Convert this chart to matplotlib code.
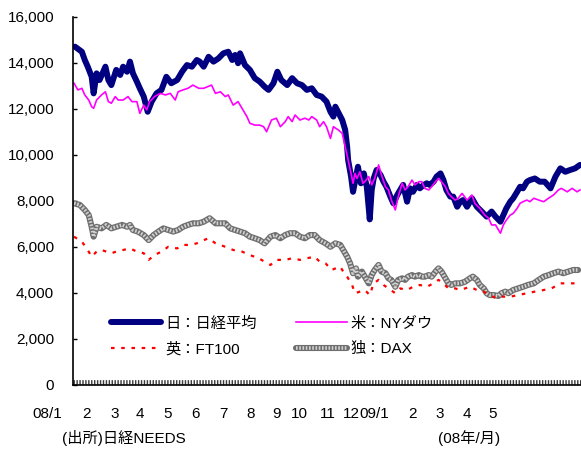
import numpy as np
import matplotlib
matplotlib.use("Agg")
import matplotlib.pyplot as plt
from matplotlib.lines import Line2D

plt.rcParams['font.family'] = ['Liberation Sans', 'Noto Sans CJK JP']

# ---- data: x = days since 2008-01-01, y = index level ----
nikkei_day = [2, 9, 12, 15, 19, 21, 24, 27, 33, 36, 39, 44, 48, 51, 55, 58, 61, 65, 68, 72,
              76, 80, 85, 90, 95, 100, 106, 111, 116, 121, 126, 129, 133, 138, 143, 148, 153, 158, 162, 165,
              168, 170, 175, 180, 185, 190, 195, 199, 204, 208, 212, 218, 223, 228, 233, 238, 243, 248, 253, 258,
              262, 265, 267, 274, 277, 279, 280, 283, 285, 288, 290, 293, 296, 299, 302, 304, 306, 309, 313, 316,
              319, 323, 326, 330, 333, 336, 340, 343, 346, 350, 353, 357, 360, 363, 367, 370, 374, 377, 380, 384,
              387, 391, 394, 397, 401, 406, 411, 416, 421, 426, 430, 435, 438, 441, 445, 448, 452, 455, 458, 462,
              465, 470, 475, 480, 486, 491, 496, 501, 506, 511, 516]
nikkei = [14710, 14490, 14130, 13840, 13400, 12680, 13550, 13260, 13840, 13260, 13040, 13700, 13480, 13840, 13620, 14060, 13550, 13190, 12900, 12540,
          11880, 12320, 12680, 12830, 13400, 13120, 13260, 13620, 13910, 13840, 14130, 14060, 13840, 14270, 14060, 14200, 14420, 14490, 14130, 14350,
          13990, 14420, 13910, 13700, 13340, 13190, 12970, 12830, 13120, 13620, 13260, 13040, 13340, 13120, 13040, 12830, 12900, 12610, 12540, 12320,
          11880, 11670, 12100, 11520, 11090, 10360, 9780, 9060, 8400, 9060, 9490, 8770, 9200, 8620, 7200, 8480, 8980, 9350, 9130, 8840,
          8620, 8190, 7900, 8260, 8480, 8700, 7970, 8550, 8400, 8700, 8550, 8700, 8770, 8700, 8840, 9060, 9200, 8910, 8480, 8190,
          8190, 7750, 7970, 8040, 7750, 8120, 7750, 7540, 7320, 7540, 7320, 7100, 7390, 7680, 7970, 8120, 8400, 8620, 8550, 8840,
          8910, 8980, 8840, 8840, 8550, 9060, 9420, 9270, 9350, 9420, 9570]

dow_day = [1, 5, 9, 12, 16, 19, 21, 24, 29, 33, 36, 39, 43, 46, 51, 56, 60, 65, 68, 72,
           75, 78, 83, 89, 94, 99, 104, 107, 112, 117, 122, 128, 133, 141, 145, 150, 155, 158, 163, 168,
           173, 177, 180, 185, 190, 194, 197, 202, 207, 211, 216, 219, 223, 226, 231, 236, 240, 243, 248, 251,
           255, 258, 262, 265, 270, 274, 277, 280, 283, 285, 287, 289, 292, 295, 297, 301, 304, 307, 311, 314,
           318, 321, 324, 328, 331, 335, 338, 341, 345, 348, 352, 355, 358, 362, 365, 369, 372, 375, 379, 382,
           385, 389, 392, 396, 401, 406, 409, 414, 419, 423, 426, 430, 433, 435, 438, 441, 445, 448, 452, 455,
           458, 462, 465, 469, 474, 479, 484, 489, 494, 497, 503, 508, 513, 516]
dow = [13120, 12830, 12900, 12610, 12390, 12100, 12030, 12390, 12610, 12750, 12320, 12250, 12540, 12390, 12390, 12540, 12320, 12320, 11810, 12170,
       11960, 12320, 12540, 12680, 12610, 12680, 12390, 12750, 12830, 12900, 13040, 12900, 12900, 13040, 12680, 12750, 12540, 12610, 12170, 12320,
       11960, 11670, 11380, 11300, 11300, 11230, 11010, 11520, 11600, 11230, 11450, 11670, 11450, 11740, 11520, 11600, 11520, 11670, 11520, 11230,
       11450, 11230, 10720, 11230, 11090, 10940, 10360, 9780, 9200, 8770, 9200, 8980, 9270, 8770, 8840, 9060, 8700, 8980, 9570, 9130,
       8620, 8480, 8040, 7610, 8190, 8770, 8480, 8620, 8910, 8700, 8840, 8840, 8550, 8480, 8620, 8840, 8980, 8840, 8620, 8330,
       8190, 8040, 8120, 8330, 8040, 8260, 7900, 7680, 7390, 7250, 6960, 6960, 6740, 6600, 6960, 7170, 7390, 7460, 7680, 7900,
       7970, 8040, 7970, 8120, 8040, 7970, 8120, 8260, 8480, 8550, 8400, 8550, 8400, 8480]

ftse_day = [1, 9, 14, 19, 24, 29, 34, 39, 44, 51, 58, 65, 72, 77, 83, 90, 97, 106, 112, 119,
            126, 129, 138, 145, 155, 163, 172, 180, 189, 195, 201, 207, 216, 223, 231, 238, 246, 251, 257, 260,
            263, 272, 275, 279, 284, 287, 292, 297, 302, 306, 311, 316, 321, 328, 333, 340, 346, 353, 360, 367,
            372, 377, 382, 389, 394, 404, 411, 418, 424, 431, 436, 445, 453, 462, 470, 479, 487, 496, 504, 513]
ftse = [6450, 6230, 5940, 5580, 5800, 5870, 5800, 5730, 5800, 5870, 5940, 5800, 5730, 5440, 5650, 5800, 6010, 5940, 6090, 6090,
        6160, 6230, 6380, 6160, 6010, 5870, 5800, 5650, 5510, 5360, 5220, 5440, 5440, 5510, 5440, 5510, 5580, 5360, 5290, 5150,
        5000, 5150, 4930, 4710, 4350, 3990, 4060, 4130, 3910, 4420, 4570, 4350, 4200, 3990, 4200, 4130, 4270, 4350, 4270, 4420,
        4570, 4420, 4200, 4200, 4130, 4270, 4130, 4060, 3910, 3770, 3840, 3840, 3910, 3990, 4060, 4130, 4200, 4420, 4420, 4420]

dax_day = [1, 7, 12, 16, 19, 21, 24, 29, 34, 39, 44, 50, 55, 58, 61, 66, 72, 77, 82, 87,
           92, 97, 102, 107, 112, 117, 122, 128, 133, 139, 145, 150, 155, 160, 165, 170, 175, 180, 185, 190,
           195, 201, 206, 211, 216, 221, 226, 231, 236, 241, 246, 251, 257, 262, 267, 272, 275, 279, 282, 285,
           288, 290, 294, 297, 301, 304, 307, 311, 314, 318, 321, 324, 328, 331, 335, 338, 341, 345, 348, 352,
           355, 358, 362, 365, 369, 372, 375, 379, 382, 385, 389, 394, 399, 404, 407, 411, 414, 418, 421, 424,
           428, 433, 436, 440, 443, 448, 453, 458, 463, 469, 474, 479, 484, 489, 494, 499, 504, 509, 514]
dax = [7900, 7830, 7610, 7390, 6880, 6450, 6880, 6810, 6960, 6810, 6880, 6960, 6880, 6960, 6740, 6670, 6520, 6300, 6520, 6670,
       6810, 6740, 6670, 6740, 6880, 6960, 7030, 7030, 7100, 7250, 7030, 7030, 7030, 6810, 6740, 6670, 6600, 6450, 6380, 6300,
       6160, 6450, 6520, 6380, 6520, 6600, 6600, 6450, 6380, 6520, 6520, 6300, 6160, 6010, 6160, 6090, 5870, 5580, 5290, 4860,
       5070, 4710, 4930, 4710, 4420, 4780, 5000, 5220, 4930, 4860, 4640, 4570, 4270, 4570, 4640, 4570, 4710, 4780, 4710, 4780,
       4710, 4710, 4780, 4710, 4930, 5070, 4930, 4640, 4420, 4350, 4420, 4420, 4490, 4640, 4710, 4570, 4350, 4200, 3990, 3910,
       3910, 3870, 3990, 4060, 3990, 4130, 4200, 4270, 4350, 4420, 4570, 4710, 4780, 4860, 4930, 4860, 4930, 5000, 5000]

series_labels = ['日：日経平均', '米：NYダウ', '英：FT100', '独：DAX']

month_labels = ['08/1', '2', '3', '4', '5', '6', '7', '8', '9', '10', '11', '12',
                '09/1', '2', '3', '4', '5']
month_label_days = [-26, 14, 42, 68, 96, 125, 153, 181, 207, 230, 259, 283,
                    307, 346, 373, 401, 427]

y_ticks = list(range(0, 16001, 2000))

# ---- figure ----
fig = plt.figure(figsize=(5.81, 4.5), dpi=100)
ax = fig.add_axes([73 / 581, 65 / 450, 508 / 581, 368 / 450])

# DAX: grey checkered band
dax_styles = [dict(color='#6e6e6e', lw=4.4, solid_joinstyle='round', solid_capstyle='round'),
              dict(color='#d2d2d2', lw=2.6, dashes=(0.45, 0.45))]
for st in dax_styles:
    ax.plot(dax_day, dax, **st)

# FT100: red short dashes
ftse_style = dict(color='#ff0000', lw=1.6, dashes=(1.6, 3.0))
ax.plot(ftse_day, ftse, **ftse_style)

# Nikkei: thick navy
nikkei_style = dict(color='#000080', lw=4.3, solid_joinstyle='round', solid_capstyle='round')
ax.plot(nikkei_day, nikkei, **nikkei_style)

# NY Dow: thin magenta
dow_style = dict(color='#ff00ff', lw=1.2)
ax.plot(dow_day, dow, **dow_style)

ax.set_xlim(0, 517)
ax.set_ylim(0, 16000)

for side in ('top', 'right'):
    ax.spines[side].set_visible(False)
for side in ('left', 'bottom'):
    ax.spines[side].set_linewidth(1.2)
    ax.spines[side].set_color('black')

ax.set_yticks(y_ticks)
ax.set_yticklabels([f'{v:,}' for v in y_ticks])
ax.tick_params(axis='y', direction='in', length=3, width=1, pad=13.5, labelsize=11)
ax.set_xticks([])

# dense category tick band sitting on the date axis
ax.plot([0, 1], [0.007, 0.007], transform=ax.transAxes, color='#3a3a3a',
        lw=3.4, dashes=(0.3, 0.32), solid_capstyle='butt', clip_on=False)

xt = ax.get_xaxis_transform()
for lab, d in zip(month_labels, month_label_days):
    ax.text(d, -0.080, lab, transform=xt, ha='center', va='center', fontsize=11, clip_on=False)

fig.text(62 / 581, 1 - 438 / 450, '(出所)日経NEEDS', ha='left', va='center', fontsize=11)
fig.text(500 / 581, 1 - 438 / 450, '(08年/月)', ha='right', va='center', fontsize=11)

# legend
h_nk = Line2D([], [], **nikkei_style)
h_ny = Line2D([], [], **dow_style)
h_ft = Line2D([], [], **ftse_style)
h_dax = tuple(Line2D([], [], **st) for st in dax_styles)
ax.legend(handles=[h_nk, h_ft, h_ny, h_dax],
          labels=[series_labels[0], series_labels[2], series_labels[1], series_labels[3]],
          ncol=2, loc='upper left', bbox_to_anchor=(0.0745, 0.186), frameon=False,
          borderpad=0, borderaxespad=0, handlelength=3.3, handletextpad=0.25,
          columnspacing=2.6, labelspacing=0.77, fontsize=11)

fig.savefig('out.png', dpi=100)
